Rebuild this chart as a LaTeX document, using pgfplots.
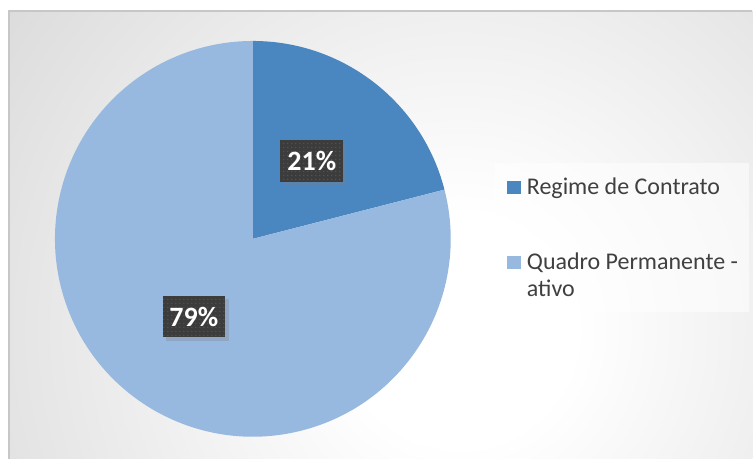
\documentclass[border=0pt]{standalone}
\usepackage{pgfplots}
\pgfplotsset{compat=1.18}
\usepackage{pgfplotstable}
\usepackage{fontspec}
\setmainfont{Carlito}
\usetikzlibrary{shadows,patterns}

\definecolor{sliceA}{RGB}{74,134,191}
\definecolor{sliceB}{RGB}{151,185,224}
\definecolor{labelbg}{RGB}{60,60,60}
\definecolor{legtext}{RGB}{64,64,64}

\pgfdeclareradialshading{chartbg}{\pgfpoint{0bp}{0bp}}{%
  color(0bp)=(white); color(6bp)=(white); color(46bp)=(black!24); color(50bp)=(black!24)}

% share of each group, percent
\pgfplotstableread{
group value
1 21
2 79
}\piedata

\pgfplotstablegetelem{0}{value}\of\piedata
\pgfmathsetmacro{\va}{\pgfplotsretval}
\pgfplotstablegetelem{1}{value}\of\piedata
\pgfmathsetmacro{\vb}{\pgfplotsretval}
\pgfmathsetmacro{\aStart}{90}
\pgfmathsetmacro{\aMid}{90-3.6*\va}
\pgfmathsetmacro{\aEnd}{\aMid-3.6*\vb}

\begin{document}
\begin{tikzpicture}
\begin{axis}[
  x=0.75pt, y=0.75pt, y dir=reverse,
  xmin=0, xmax=753, ymin=0, ymax=459,
  scale only axis, hide axis, clip=false,
]
  % page and chart area
  \fill[white] (axis cs:0,0) rectangle (axis cs:753,459);
  \begin{scope}
    \clip (axis cs:9,11) rectangle (axis cs:753,459);
    \shade[shading=chartbg] (axis cs:-20,-150) rectangle (axis cs:940,810);
  \end{scope}
  \draw[black!22, line width=0.8pt] (axis cs:9,459) -- (axis cs:9,11) -- (axis cs:753,11);

  % pie
  \fill[sliceA] (axis cs:253,239) -- +(\aStart:148.5pt)
    arc[start angle=\aStart, end angle=\aMid, radius=148.5pt] -- cycle;
  \fill[sliceB] (axis cs:253,239) -- +(\aMid:148.5pt)
    arc[start angle=\aMid, end angle=\aEnd, radius=148.5pt] -- cycle;

  % data labels
  \tikzset{plabel/.style={fill=labelbg,
      postaction={pattern=dots, pattern color=black!66},
      drop shadow={shadow xshift=2.5pt, shadow yshift=-2.5pt, opacity=0.3},
      text=white, font=\bfseries\fontsize{21}{24}\selectfont,
      minimum width=47pt, minimum height=31pt, inner sep=0pt}}
  \node[plabel] at (axis cs:312,161) {21\%};
  \node[plabel] at (axis cs:194,317) {79\%};

  % legend
  \fill[white, opacity=0.55] (axis cs:495,163) rectangle (axis cs:750,312);
  \fill[sliceA] (axis cs:507,181) rectangle (axis cs:521,194);
  \fill[sliceB] (axis cs:507,256) rectangle (axis cs:521,269);
  \tikzset{ltext/.style={anchor=base west, inner sep=0pt, text=legtext,
      font=\fontsize{18}{22}\selectfont}}
  \node[ltext] at (axis cs:527,195) {Regime de Contrato};
  \node[ltext] at (axis cs:527,270) {Quadro Permanente -};
  \node[ltext] at (axis cs:527,297) {ativo};
\end{axis}
\end{tikzpicture}
\end{document}
